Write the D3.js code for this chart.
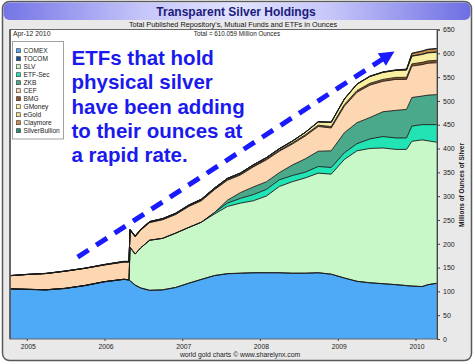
<!DOCTYPE html>
<html>
<head>
<meta charset="utf-8">
<script src="https://cdn.jsdelivr.net/npm/d3@7"></script>
<style>
  body { margin: 0; background: #fff; }
  svg { display: block; }
  text { font-family: "Liberation Sans", Arial, sans-serif; }
</style>
</head>
<body>
<svg id="chart"></svg>
<script>
// dates of the readings (roughly every two months, more around the jumps)
const dates = ["2004-10-14","2005-01-01","2005-04-01","2005-07-01","2005-10-01","2006-01-01",
  "2006-04-01","2006-04-26","2006-05-01","2006-05-25","2006-06-20","2006-08-01",
  "2006-10-01","2006-12-01","2007-02-01","2007-04-01","2007-06-01","2007-08-01",
  "2007-10-01","2007-12-01","2008-02-01","2008-04-01","2008-06-01","2008-08-01",
  "2008-10-01","2008-12-01","2009-02-01","2009-04-01","2009-06-01","2009-08-01",
  "2009-10-01","2009-11-20","2009-12-15","2010-02-01","2010-03-01","2010-04-12"];

// millions of ounces per holder
const comex = [105,104,103,106,112,120,125,124,122,113,107,102,103,108,117,125,133,137,
  138,139,139,139,138,138,139,136,128,121,118,116,114,112,111,110,114,117];
const tocom = [0.4,0.4,0.4,0.4,0.4,0.4,0.4,0.4,0.4,0.4,0.4,0.4,0.4,0.3,0.3,0.3,0.3,0.3,
  0.3,0.3,0.3,0.3,0.3,0.3,0.3,0.2,0.2,0.2,0.2,0.2,0.2,0.2,0.2,0.2,0.2,0.2];
const slv = [0,0,0,0,0,0,0,0,70,65,84,105,108,114,117,120,129,141,
  147,151,161,181,192,200,209,210,249,274,282,285,284,286,304,308,302,296];
const etfSec = [0,0,0,0,0,0,0,0,0,0,0,0,0,0,0,0,3,7,
  10,13,14,14,13,12,14,14,14,15,20,24,24,24,32,32,34,37];
const zkb = [0,0,0,0,0,0,0,0,0,0,0,0,0,0,0,0,0,6,
  12,16,16,15,22,28,32,35,42,44,45,52,58,60,60,60,62,63];
const cef = [27.5,31,34,36,36,35,36,37,36,36,37,37,39,39,44,45,48,42,
  37,42,46,45,44,48,52,48,56,64,68,64,65,63,66,66,67,67];
const bmg = [0,0,0,0,0,0.3,0.5,0.5,0.6,0.7,0.8,0.9,1.0,1.2,1.3,1.5,1.6,1.8,
  1.9,2.0,2.1,2.3,2.4,2.6,2.8,3.0,3.3,3.6,3.8,4.0,4.2,4.4,4.6,4.8,4.9,5.0];
const gmoney = [0,0,0,0,0,0.3,0.5,0.5,0.6,0.7,0.8,0.9,1.0,1.1,1.2,1.3,1.5,1.7,
  1.8,2.0,2.2,2.6,3.4,4.6,6.5,8.5,11,13,14,14.5,14.5,15,16,16.5,16.8,17];
const egold = [0.3,0.3,0.4,0.4,0.4,0.5,0.5,0.5,0.5,0.5,0.5,0.5,0.5,0.5,0.5,0.5,0.5,0.5,
  0.5,0.5,0.5,0.5,0.6,0.6,0.7,0.7,0.8,0.8,0.8,0.8,0.8,0.8,0.8,0.8,0.8,0.8];
const claymore = [0,0,0,0,0,0,0,0,0,0,0,0,0,0,0,0,0,0,
  0,0,0,0,0,0,0,0,0,0,0,0,0,1,5,6,6.3,6.5];
const silverBullion = [0,0,0,0,0,0,0,0,0,0,0,0,0,0,0,0,0,0,
  0,0,0,0,0,0,0,0,0,0,0.3,0.4,0.5,0.5,0.6,0.6,0.7,0.7];

const seriesNames = ["COMEX","TOCOM","SLV","ETF-Sec","ZKB","CEF","BMG","GMoney","eGold","Claymore","SilverBullion"];
const seriesValues = [comex, tocom, slv, etfSec, zkb, cef, bmg, gmoney, egold, claymore, silverBullion];
const seriesColors = ["#4eaaf6","#1d4f98","#c8f8c8","#22e3b4","#4aa98a","#fdd7b2",
  "#8b5226","#f8f0a0","#f2dc8c","#c98c4a","#2b8a72"];

const yTicks = [0,50,100,150,200,250,300,350,400,450,500,550,600,650];
const yearLabels = ["2005","2006","2007","2008","2009","2010"];
const dateLabel = "Apr-12 2010";
const totalLabel = "Total = 610.059 Million Ounces";
const noteLines = ["ETFs that hold","physical silver","have been adding","to their ounces at","a rapid rate."];
const arrowFrom = {date: "2005-08-28", value: 172};
const arrowTo = {date: "2009-09-24", value: 604};

const W = 475, H = 364;
const plot = {left: 10, right: 437, top: 29.5, bottom: 339};
const parse = d3.timeParse("%Y-%m-%d");

const rows = dates.map((d, i) => {
  const r = {date: parse(d)};
  seriesNames.forEach((k, j) => r[k] = seriesValues[j][i]);
  return r;
});

const svg = d3.select("#chart").attr("width", W).attr("height", H);

// frame
const defs = svg.append("defs");
const g1 = defs.append("linearGradient").attr("id", "band").attr("x1", 0).attr("x2", 1);
[[0,"#7474e6"],[0.3,"#c6c6fa"],[0.5,"#e2e2ff"],[0.7,"#c6c6fa"],[1,"#6e6ee4"]]
  .forEach(s => g1.append("stop").attr("offset", s[0]).attr("stop-color", s[1]));

svg.append("rect").attr("x", 2.5).attr("y", 1.5).attr("width", 469).attr("height", 359)
  .attr("rx", 7).attr("fill", "#e9e9e9").attr("stroke", "#5a5a5a").attr("stroke-width", 1.5);
svg.append("rect").attr("x", 3.5).attr("y", 2.5).attr("width", 467).attr("height", 17.5)
  .attr("rx", 6).attr("fill", "url(#band)");

svg.append("text").attr("x", 236).attr("y", 15.5).attr("text-anchor", "middle")
  .attr("font-size", 12).attr("font-weight", "bold").attr("fill", "#1c1c7a")
  .text("Transparent Silver Holdings");
svg.append("text").attr("x", 233).attr("y", 26.8).attr("text-anchor", "middle")
  .attr("font-size", 7.3).attr("fill", "#111")
  .text("Total Published Repository's, Mutual Funds and ETFs in Ounces");

// plot background
svg.append("rect").attr("x", plot.left).attr("y", plot.top)
  .attr("width", plot.right - plot.left).attr("height", plot.bottom - plot.top)
  .attr("fill", "#fff");

const x = d3.scaleTime().domain([rows[0].date, rows[rows.length - 1].date])
  .range([plot.left, plot.right]);
const y = d3.scaleLinear().domain([0, 650]).range([plot.bottom, plot.top]);

const stacked = d3.stack().keys(seriesNames)(rows);

const area = d3.area().x(d => x(d.data.date)).y0(d => y(d[0])).y1(d => y(d[1]));
const topLine = d3.line().x(d => x(d.data.date)).y(d => y(d[1]));

svg.append("g").selectAll("path").data(stacked).join("path")
  .attr("d", area).attr("fill", (d, i) => seriesColors[i]);
svg.append("g").selectAll("path").data(stacked).join("path")
  .attr("d", topLine).attr("fill", "none").attr("stroke", "#1a1a1a")
  .attr("stroke-width", 0.9).attr("stroke-linejoin", "round");

// plot border
svg.append("rect").attr("x", plot.left).attr("y", plot.top)
  .attr("width", plot.right - plot.left).attr("height", plot.bottom - plot.top)
  .attr("fill", "none").attr("stroke", "#666").attr("stroke-width", 1);
svg.append("line").attr("x1", plot.left).attr("x2", plot.left)
  .attr("y1", plot.top).attr("y2", plot.bottom).attr("stroke", "#555").attr("stroke-width", 1.6);

// right axis
const yAxis = svg.append("g").attr("transform", `translate(${plot.right},0)`)
  .call(d3.axisRight(y).tickValues(yTicks).tickSize(3).tickPadding(3));
yAxis.select(".domain").attr("stroke", "#444");
yAxis.selectAll(".tick line").attr("stroke", "#444");
yAxis.selectAll("text").attr("font-size", 7).attr("fill", "#222")
  .attr("font-family", "Liberation Sans, Arial, sans-serif");

svg.append("text")
  .attr("transform", "translate(463.5,185) rotate(-90)")
  .attr("text-anchor", "middle").attr("font-size", 6.4).attr("font-weight", "bold")
  .attr("fill", "#222").text("Millions of Ounces of Silver");

// bottom axis
const years = d3.timeYear.range(d3.timeYear.ceil(x.domain()[0]), x.domain()[1]);
const xAxis = svg.append("g").attr("transform", `translate(0,${plot.bottom})`)
  .call(d3.axisBottom(x).tickValues(years).tickSize(2).tickPadding(3)
    .tickFormat((d, i) => yearLabels[i]));
xAxis.select(".domain").remove();
xAxis.selectAll(".tick line").attr("stroke", "#444");
xAxis.selectAll("text").attr("font-size", 6.8).attr("fill", "#222")
  .attr("font-family", "Liberation Sans, Arial, sans-serif").attr("dx", 1);

svg.append("text").attr("x", 240).attr("y", 356.5).attr("text-anchor", "middle")
  .attr("font-size", 6.8).attr("fill", "#222").text("world gold charts \u00a9 www.sharelynx.com");

// header texts inside the plot
svg.append("text").attr("x", 13).attr("y", 35.8).attr("font-size", 6.8).attr("fill", "#222").text(dateLabel);
svg.append("text").attr("x", 237).attr("y", 35.5).attr("text-anchor", "middle")
  .attr("font-size", 6.3).attr("fill", "#222").text(totalLabel);

// legend
const leg = svg.append("g");
leg.append("rect").attr("x", 12.5).attr("y", 41.5).attr("width", 51).attr("height", 97.5)
  .attr("fill", "#fff").attr("stroke", "#8a8a8a").attr("stroke-width", 0.8);
seriesNames.forEach((n, i) => {
  const cy = 50.7 + i * 8;
  leg.append("rect").attr("x", 16.5).attr("y", cy - 2).attr("width", 4).attr("height", 4)
    .attr("fill", seriesColors[i]).attr("stroke", "#333").attr("stroke-width", 0.6);
  leg.append("text").attr("x", 23.5).attr("y", cy + 2.3).attr("font-size", 6.6)
    .attr("fill", "#222").text(n);
});

// annotation
const note = svg.append("text").attr("font-size", 20.5).attr("font-weight", "bold").attr("fill", "#1a1aee");
noteLines.forEach((t, i) => {
  note.append("tspan").attr("x", 71.5).attr("y", 65 + i * 24.3).text(t);
});

const ax0 = x(parse(arrowFrom.date)), ay0 = y(arrowFrom.value);
const ax1 = x(parse(arrowTo.date)), ay1 = y(arrowTo.value);
const len = Math.hypot(ax1 - ax0, ay1 - ay0);
const ux = (ax1 - ax0) / len, uy = (ay1 - ay0) / len;
const headLen = 15, headW = 7.5;
const bx = ax1 - ux * headLen, by = ay1 - uy * headLen;
svg.append("line").attr("x1", ax0).attr("y1", ay0).attr("x2", bx + ux * 2).attr("y2", by + uy * 2)
  .attr("stroke", "#1a1aff").attr("stroke-width", 5).attr("stroke-dasharray", "13,9");
svg.append("path")
  .attr("d", `M${ax1},${ay1}L${bx - uy * headW},${by + ux * headW}L${bx + uy * headW},${by - ux * headW}Z`)
  .attr("fill", "#1a1aff");
</script>
</body>
</html>
